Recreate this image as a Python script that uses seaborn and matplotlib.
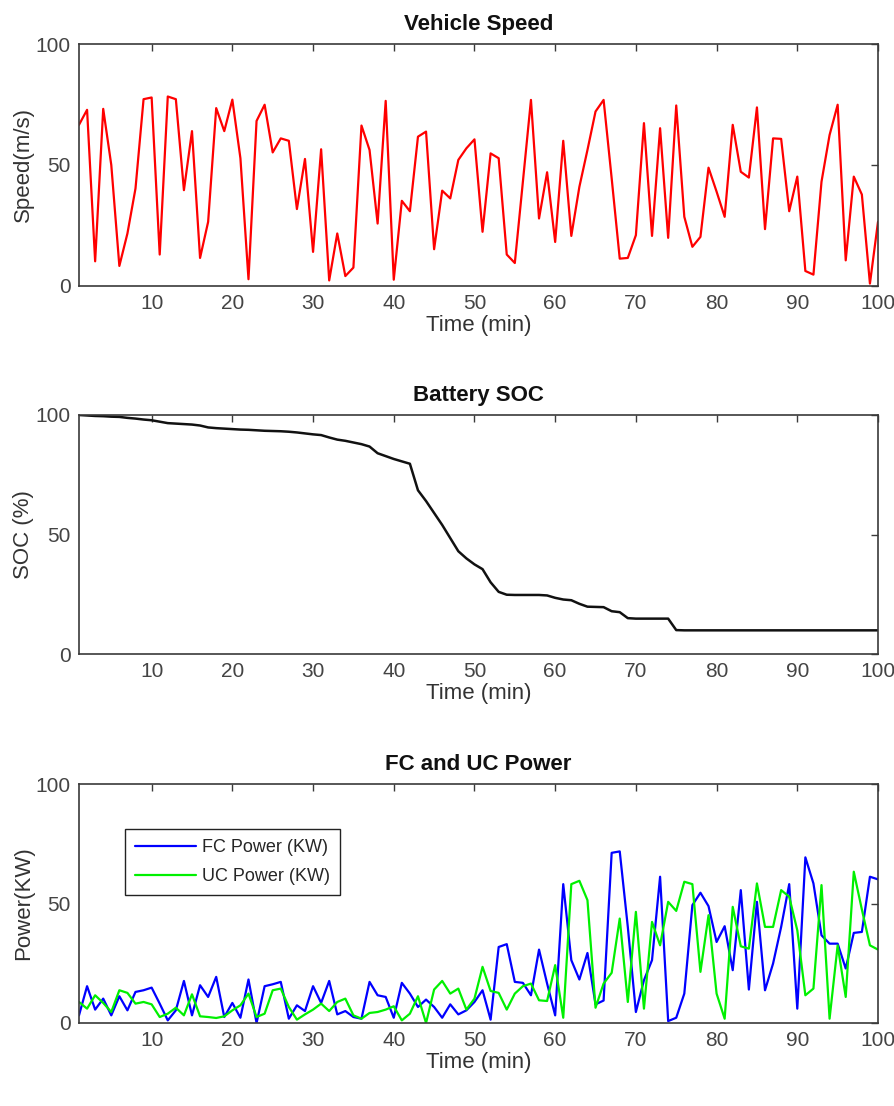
import matplotlib
matplotlib.use("Agg")
import matplotlib.pyplot as plt
import seaborn as sns
import pandas as pd

# time axis (min)
time = list(range(1, 101))

speed = [66.6, 72.8, 10.2, 73.2, 50.0, 8.3, 21.7, 40.3, 77.2, 77.9,
         13.0, 78.3, 77.2, 39.6, 64.0, 11.6, 26.5, 73.5, 64.0, 77.0,
         52.8, 2.8, 68.2, 74.9, 55.2, 61.0, 60.0, 31.8, 52.5, 14.1,
         56.5, 2.3, 21.7, 4.1, 7.6, 66.3, 56.2, 25.8, 76.5, 2.6,
         35.2, 30.9, 61.7, 63.8, 15.2, 39.4, 36.2, 52.1, 56.9, 60.6,
         22.4, 54.8, 52.8, 13.0, 9.5, 43.1, 76.9, 27.9, 47.0, 18.2,
         60.0, 20.7, 41.0, 56.2, 72.1, 76.9, 44.5, 11.3, 11.6, 21.0,
         67.3, 20.7, 65.2, 19.9, 74.6, 28.6, 16.2, 20.3, 48.9, 39.0,
         28.6, 66.6, 47.2, 44.8, 73.8, 23.5, 61.0, 60.8, 30.9, 45.2,
         6.2, 4.7, 43.1, 62.4, 74.9, 10.6, 45.2, 37.8, 1.0, 26.5]

soc = [100.0, 99.8, 99.6, 99.5, 99.3, 99.2, 98.8, 98.5, 98.1, 97.8,
       97.2, 96.6, 96.4, 96.2, 96.0, 95.6, 94.8, 94.5, 94.3, 94.1,
       93.9, 93.8, 93.6, 93.4, 93.3, 93.2, 93.0, 92.7, 92.3, 91.9,
       91.6, 90.6, 89.7, 89.2, 88.5, 87.8, 86.8, 84.0, 82.8, 81.6,
       80.6, 79.6, 68.5, 64.0, 59.0, 54.0, 48.5, 43.0, 40.0, 37.5,
       35.5, 30.0, 26.0, 24.8, 24.7, 24.7, 24.7, 24.7, 24.5, 23.5,
       22.8, 22.5, 21.0, 19.8, 19.7, 19.6, 17.9, 17.5, 15.0, 14.8,
       14.8, 14.8, 14.8, 14.8, 10.0, 9.9, 9.9, 9.9, 9.9, 9.9,
       9.9, 9.9, 9.9, 9.9, 9.9, 9.9, 9.9, 9.9, 9.9, 9.9,
       9.9, 9.9, 9.9, 9.9, 9.9, 9.9, 9.9, 9.9, 9.9, 9.9]

fc_power = [3.2, 15.4, 5.6, 10.2, 3.2, 11.2, 5.3, 13.0, 13.7, 14.8,
            8.1, 1.1, 5.3, 17.6, 3.2, 15.8, 10.9, 19.3, 2.5, 8.4,
            2.2, 18.2, 0.0, 15.4, 16.2, 17.2, 1.8, 7.4, 5.0, 15.4,
            8.4, 17.6, 3.6, 5.0, 2.5, 1.8, 17.2, 11.6, 10.9, 2.2,
            16.8, 12.3, 6.7, 9.8, 6.7, 2.2, 7.8, 3.6, 5.3, 8.8,
            13.7, 1.4, 31.8, 33.0, 17.2, 16.8, 11.6, 30.7, 16.5, 3.2,
            58.1, 26.3, 18.2, 29.3, 7.8, 9.4, 71.2, 71.8, 40.2, 4.6,
            17.9, 26.3, 61.2, 0.8, 2.2, 12.3, 49.3, 54.5, 48.9, 33.9,
            40.5, 22.1, 55.6, 14.0, 50.7, 13.7, 24.9, 40.2, 58.1, 6.0,
            69.3, 58.4, 36.7, 33.2, 33.2, 22.8, 37.7, 38.1, 61.2, 60.1]

uc_power = [8.8, 6.0, 11.6, 8.4, 4.6, 13.7, 12.6, 8.1, 8.8, 7.8,
            2.5, 3.9, 6.4, 3.2, 12.0, 2.8, 2.5, 2.1, 2.8, 5.3,
            7.4, 12.3, 2.5, 3.9, 13.7, 14.4, 6.7, 1.4, 3.6, 5.6,
            8.1, 5.0, 8.8, 10.2, 3.2, 1.8, 4.2, 4.6, 5.6, 7.0,
            1.1, 3.9, 11.2, 0.0, 14.0, 17.6, 12.3, 14.4, 5.6, 10.2,
            23.5, 13.4, 12.6, 5.6, 12.3, 15.4, 16.5, 9.5, 9.2, 24.2,
            2.2, 58.1, 59.5, 51.4, 6.4, 16.5, 21.0, 43.7, 8.8, 46.5,
            6.0, 42.3, 32.5, 50.7, 46.9, 59.1, 58.1, 21.4, 45.1, 12.3,
            1.8, 48.6, 32.1, 31.1, 58.4, 40.2, 40.2, 55.6, 52.8, 38.8,
            11.6, 14.4, 57.7, 1.8, 32.5, 10.9, 63.3, 47.5, 32.5, 30.7]

sns.set_theme(style="white")
plt.rcParams["font.family"] = ["Liberation Sans", "DejaVu Sans"]
plt.rcParams["axes.edgecolor"] = "#3a3a3a"
plt.rcParams["xtick.color"] = "#3a3a3a"
plt.rcParams["ytick.color"] = "#3a3a3a"

fig = plt.figure(figsize=(8.95, 11.06), dpi=100)
W, H = 895, 1106
left, right = 79, 878
boxes = [(44, 286), (415, 654), (784, 1023)]
axes = [fig.add_axes([left / W, 1 - b / H, (right - left) / W, (b - t) / H]) for t, b in boxes]

power = pd.DataFrame({"time": time, "FC Power (KW)": fc_power, "UC Power (KW)": uc_power})

sns.lineplot(x=time, y=speed, color="#ff0000", lw=1.6, ax=axes[0])
sns.lineplot(x=time, y=soc, color="#111111", lw=1.8, ax=axes[1])
sns.lineplot(data=power, x="time", y="FC Power (KW)", color="#0000ff", lw=1.6,
             label="FC Power (KW)", ax=axes[2])
sns.lineplot(data=power, x="time", y="UC Power (KW)", color="#00f000", lw=1.6,
             label="UC Power (KW)", ax=axes[2])

titles = ["Vehicle Speed", "Battery SOC", "FC and UC Power"]
ylabels = ["Speed(m/s)", "SOC (%)", "Power(KW)"]
for ax, ttl, yl in zip(axes, titles, ylabels):
    ax.set_xlim(1, 100)
    ax.set_ylim(0, 100)
    ax.set_xticks(range(10, 101, 10))
    ax.set_yticks([0, 50, 100])
    ax.tick_params(direction="in", length=5, width=1, top=True, right=True,
                   labelsize=15, labelcolor="#444444", pad=6)
    for s in ax.spines.values():
        s.set_linewidth(1.2)
    ax.set_title(ttl, fontsize=16, fontweight="bold", pad=10, color="#111111")
    ax.set_xlabel("Time (min)", fontsize=16, color="#333333", labelpad=1)
    ax.set_ylabel(yl, fontsize=16, color="#333333", labelpad=1)

leg = axes[2].legend(loc="upper left", bbox_to_anchor=(0.0576, 0.81), borderaxespad=0,
                     fancybox=False, framealpha=1, edgecolor="#222222", fontsize=13,
                     handlelength=3.4, handletextpad=0.3, borderpad=0.55, labelspacing=0.65)
leg.get_frame().set_linewidth(1.0)

fig.savefig("out.png", dpi=100)
